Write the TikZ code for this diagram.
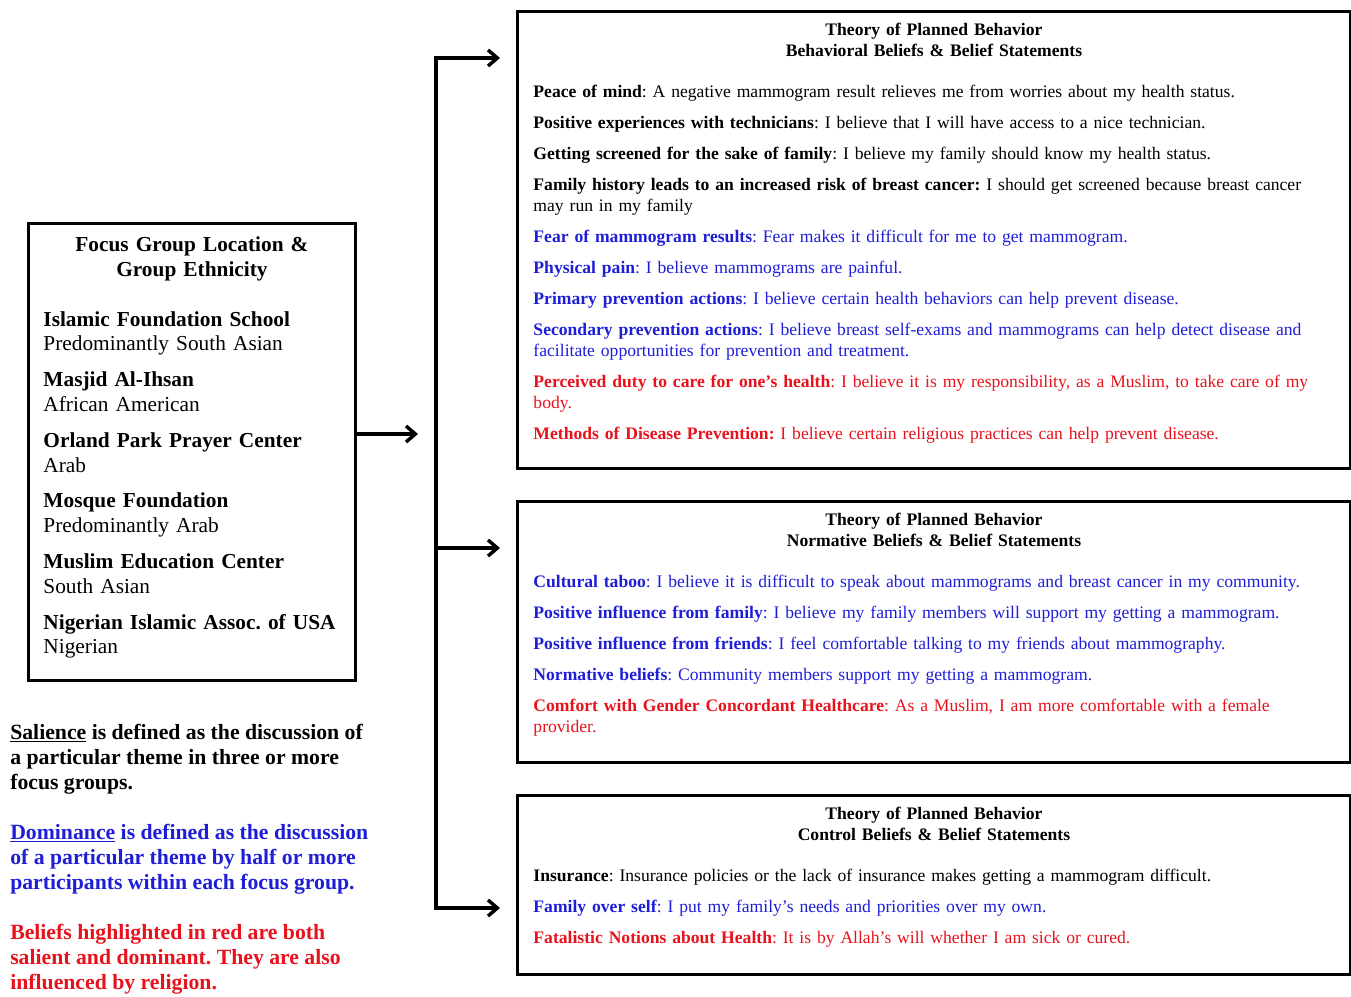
\documentclass[tikz,border=0pt]{standalone}
\usepackage{fontspec}
\setmainfont{Liberation Serif}
\usetikzlibrary{arrows.meta,positioning,calc}
\definecolor{BeliefBlue}{HTML}{1E1ED8}
\definecolor{BeliefRed}{HTML}{E8121C}
\frenchspacing
\newcommand{\tpbtitle}[1]{\makebox[\linewidth][c]{\textbf{Theory of Planned Behavior}}\\
  \makebox[\linewidth][c]{\textbf{#1}}}

\begin{document}
\begin{tikzpicture}[x=0.75pt,y=-0.75pt,
  frame/.style={draw,line width=2.2pt,anchor=north west,align=left,inner ysep=0pt},
  tpb/.style={frame,inner xsep=12pt,text width=600.75pt,minimum height=#1,font=\fontsize{13.2}{15.75}\selectfont},
  barb/.tip={Straight Barb[length=7pt,width=12pt]},
  arr/.style={-barb,line width=2.6pt}
]
  \useasboundingbox (0,0) rectangle (1351,996);

  % focus groups
  \node[frame,inner xsep=11.25pt,text width=222.75pt,minimum height=342.75pt,font=\fontsize{16}{18.6}\selectfont] (focus) at (27,222) {%
  \makebox[\linewidth][c]{\textbf{Focus Group Location \&}}\\
  \makebox[\linewidth][c]{\textbf{Group Ethnicity}}\\[18.75pt]
  \textbf{Islamic Foundation School}\\
  Predominantly South Asian\\[8.25pt]
  \textbf{Masjid Al-Ihsan}\\
  African American\\[8.25pt]
  \textbf{Orland Park Prayer Center}\\
  Arab\\[8.25pt]
  \textbf{Mosque Foundation}\\
  Predominantly Arab\\[8.25pt]
  \textbf{Muslim Education Center}\\
  South Asian\\[8.25pt]
  \textbf{Nigerian Islamic Assoc. of USA}\\
  Nigerian\par\kern6.5pt};

  % legend
  \node[anchor=north west,align=left,inner sep=0pt,font=\fontsize{16.3}{18.75}\selectfont\bfseries] (notes) at (10,724) {%
  \underline{Salience} is defined as the discussion of\\
  a particular theme in three or more\\
  focus groups.\\[18.75pt]
  \textcolor{BeliefBlue}{\underline{Dominance} is defined as the discussion}\\
  \textcolor{BeliefBlue}{of a particular theme by half or more}\\
  \textcolor{BeliefBlue}{participants within each focus group.}\\[18.75pt]
  \textcolor{BeliefRed}{Beliefs highlighted in red are both}\\
  \textcolor{BeliefRed}{salient and dominant. They are also}\\
  \textcolor{BeliefRed}{influenced by religion.}};

  % belief boxes
  \node[tpb=342.75pt] (behav) at (516,10) {\tpbtitle{Behavioral Beliefs \& Belief Statements}\\[15pt]
  \textbf{Peace of mind}: A negative mammogram result relieves me from worries about my health status.\\[7.5pt]
  \textbf{Positive experiences with technicians}: I believe that I will have access to a nice technician.\\[7.5pt]
  \textbf{Getting screened for the sake of family}: I believe my family should know my health status.\\[7.5pt]
  \textbf{Family history leads to an increased risk of breast cancer:} I should get screened because breast cancer\\
  may run in my family\\[7.5pt]
  \textcolor{BeliefBlue}{\textbf{Fear of mammogram results}: Fear makes it difficult for me to get mammogram.}\\[7.5pt]
  \textcolor{BeliefBlue}{\textbf{Physical pain}: I believe mammograms are painful.}\\[7.5pt]
  \textcolor{BeliefBlue}{\textbf{Primary prevention actions}: I believe certain health behaviors can help prevent disease.}\\[7.5pt]
  \textcolor{BeliefBlue}{\textbf{Secondary prevention actions}: I believe breast self-exams and mammograms can help detect disease and}\\
  \textcolor{BeliefBlue}{facilitate opportunities for prevention and treatment.}\\[7.5pt]
  \textcolor{BeliefRed}{\textbf{Perceived duty to care for one's health}: I believe it is my responsibility, as a Muslim, to take care of my}\\
  \textcolor{BeliefRed}{body.}\\[7.5pt]
  \textcolor{BeliefRed}{\textbf{Methods of Disease Prevention:} I believe certain religious practices can help prevent disease.}\par\kern10.5pt};

  \node[tpb=195.75pt] (norm) at (516,500) {\tpbtitle{Normative Beliefs \& Belief Statements}\\[15pt]
  \textcolor{BeliefBlue}{\textbf{Cultural taboo}: I believe it is difficult to speak about mammograms and breast cancer in my community.}\\[7.5pt]
  \textcolor{BeliefBlue}{\textbf{Positive influence from family}: I believe my family members will support my getting a mammogram.}\\[7.5pt]
  \textcolor{BeliefBlue}{\textbf{Positive influence from friends}: I feel comfortable talking to my friends about mammography.}\\[7.5pt]
  \textcolor{BeliefBlue}{\textbf{Normative beliefs}: Community members support my getting a mammogram.}\\[7.5pt]
  \textcolor{BeliefRed}{\textbf{Comfort with Gender Concordant Healthcare}: As a Muslim, I am more comfortable with a female}\\
  \textcolor{BeliefRed}{provider.}\par\kern10.5pt};

  \node[tpb=134.25pt] (ctrl) at (516,794) {\tpbtitle{Control Beliefs \& Belief Statements}\\[15pt]
  \textbf{Insurance}: Insurance policies or the lack of insurance makes getting a mammogram difficult.\\[7.5pt]
  \textcolor{BeliefBlue}{\textbf{Family over self}: I put my family's needs and priorities over my own.}\\[7.5pt]
  \textcolor{BeliefRed}{\textbf{Fatalistic Notions about Health}: It is by Allah's will whether I am sick or cured.}\par\kern12pt};

  % connectors
  \coordinate (split) at (436,434);
  \coordinate (trunktop) at (436,58);
  \coordinate (trunkmid) at (436,548);
  \coordinate (trunkbot) at (436,908);
  \draw[arr,shorten >=13.5pt] (focus.east |- split) -- (split);
  \draw[barb-barb,line width=2.6pt,shorten <=12pt,shorten >=12pt]
    (trunktop -| behav.west) -- (trunktop) -- (trunkbot) -- (trunkbot -| ctrl.west);
  \draw[arr,shorten >=12pt] (trunkmid) -- (trunkmid -| norm.west);
\end{tikzpicture}
\end{document}
